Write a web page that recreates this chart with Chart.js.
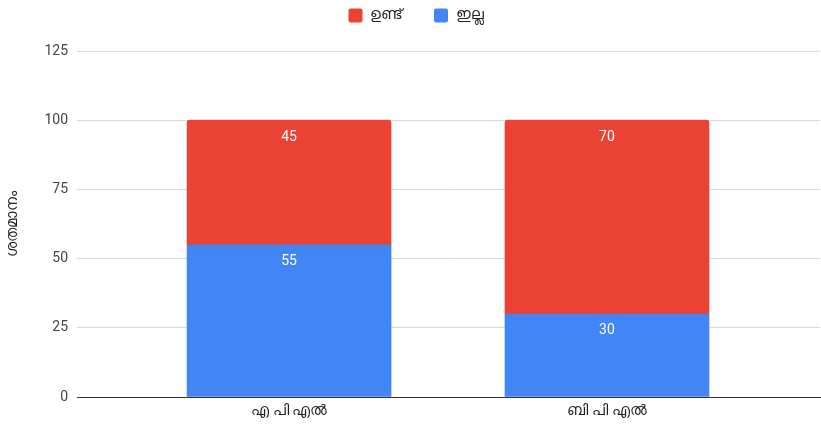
<!DOCTYPE html>
<html>
<head>
<meta charset="utf-8">
<script src="https://cdn.jsdelivr.net/npm/chart.js@4"></script>
<style>
    html, body { margin: 0; padding: 0; background: #fff; }
    #wrap { width: 821px; height: 426px; }
</style>
</head>
<body>
<div id="wrap"><canvas id="chart01"></canvas></div>
<script>
// categorias e valores
const categories = ['എ പി എൽ', 'ബി പി എൽ'];
const valuesIlla = [55, 30];   // azul, embaixo
const valuesUndu = [45, 70];   // vermelho, em cima
const yTicks = [0, 25, 50, 75, 100, 125];
const fontFam = "Roboto, 'Noto Sans', sans-serif";
const legendPad = 32;

const ctx01 = document.getElementById('chart01');

// desenha o valor dentro de cada barra
const barLabels = {
    id: 'barLabels',
    afterDatasetsDraw(chart) {
        const c = chart.ctx;
        c.save();
        c.fillStyle = '#ffffff';
        c.font = '14px ' + fontFam;
        c.textAlign = 'center';
        c.textBaseline = 'middle';
        chart.data.datasets.forEach((ds, i) => {
            chart.getDatasetMeta(i).data.forEach((bar, j) => {
                c.fillText(String(ds.data[j].y), bar.x, bar.y + 17);
            });
        });
        c.restore();
    }
};

// legenda: altura fixa e itens mais separados
const legendSpace = {
    id: 'legendSpace',
    beforeInit(chart) {
        const lg = chart.legend;
        const fit = lg.fit;
        const draw = lg.draw;
        lg.fit = function () {
            fit.bind(lg)();
            this.height = 51;
        };
        lg.draw = function () {
            chart.ctx.save();
            chart.ctx.translate(6, 8 - legendPad);
            draw.bind(lg)();
            chart.ctx.restore();
        };
    }
};

const chart = new Chart(ctx01, {
    type: 'bar',
    data: {
        datasets: [{
            label: 'ഇല്ല',
            data: valuesIlla.map((v, i) => ({ x: i, y: v })),
            backgroundColor: '#4285f4',
            barThickness: 204
        }, {
            label: 'ഉണ്ട്',
            data: valuesUndu.map((v, i) => ({ x: i, y: v })),
            backgroundColor: '#ea4335',
            barThickness: 204,
            borderRadius: { topLeft: 3, topRight: 3, bottomLeft: 0, bottomRight: 0 },
            borderSkipped: 'start'
        }]
    },
    options: {
        responsive: true,
        maintainAspectRatio: false,
        animation: false,
        layout: { padding: { right: 1, top: 0 } },
        plugins: {
            legend: {
                position: 'top',
                reverse: true,
                labels: {
                    boxWidth: 14,
                    boxHeight: 14,
                    useBorderRadius: true,
                    borderRadius: 2,
                    padding: legendPad,
                    color: '#222',
                    font: { family: fontFam, size: 15 }
                }
            },
            tooltip: { enabled: false }
        },
        scales: {
            x: {
                type: 'linear',
                stacked: true,
                offset: false,
                min: -0.667,
                max: 1.67,
                grid: { display: false, drawTicks: false },
                border: { display: true, color: '#333', width: 1 },
                afterBuildTicks: (scale) => {
                    scale.ticks = categories.map((c, i) => ({ value: i }));
                },
                afterFit: (scale) => { scale.height = 29; },
                ticks: {
                    autoSkip: false,
                    maxRotation: 0,
                    padding: 5,
                    color: '#222',
                    font: { family: fontFam, size: 15 },
                    callback: (v) => categories[v]
                }
            },
            y: {
                stacked: true,
                min: 0,
                max: 125,
                afterBuildTicks: (scale) => {
                    scale.ticks = yTicks.map(v => ({ value: v }));
                },
                afterFit: (scale) => { scale.width = 77; },
                grid: { color: '#d9d9d9', drawTicks: false },
                border: { display: false },
                ticks: {
                    padding: 9,
                    color: '#444',
                    font: { family: fontFam, size: 14 }
                },
                title: {
                    display: true,
                    text: 'ശതമാനം',
                    color: '#222',
                    font: { family: fontFam, size: 15 },
                    padding: { top: 4, bottom: 0 }
                }
            }
        }
    },
    plugins: [barLabels, legendSpace]
});
</script>
</body>
</html>
